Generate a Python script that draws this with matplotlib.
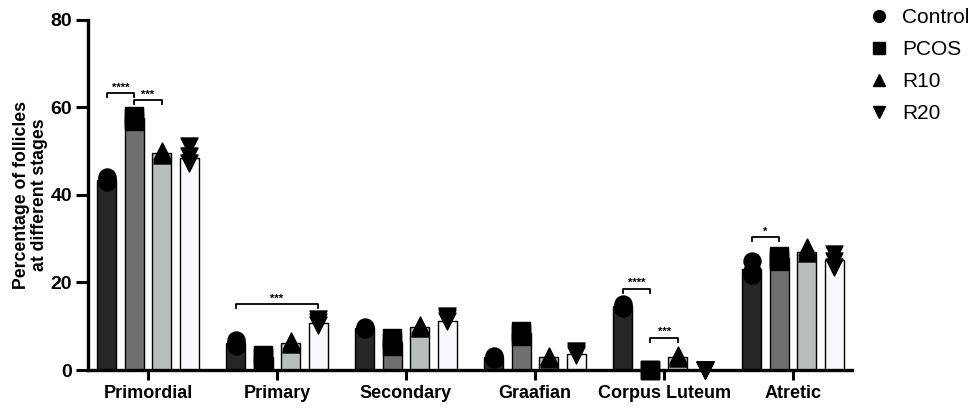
import matplotlib.pyplot as plt
from matplotlib.lines import Line2D
import numpy as np

plt.rcParams['font.family'] = ['Liberation Sans', 'DejaVu Sans']

stages = ['Primordial', 'Primary', 'Secondary', 'Graafian', 'Corpus Luteum', 'Atretic']
groups = ['Control', 'PCOS', 'R10', 'R20']

# group means (% of follicles)
control = [43.4, 6.1, 9.6, 3.0, 14.6, 23.0]
pcos = [57.5, 3.0, 6.5, 8.5, 0.0, 25.5]
r10 = [49.5, 6.2, 9.9, 3.0, 3.0, 26.9]
r20 = [48.5, 10.7, 11.3, 3.6, 0.0, 25.2]

# individual animals
control_pts = [[43.0, 43.6, 44.2], [5.6, 6.2, 6.8], [9.3, 9.6, 9.9],
               [2.6, 3.0, 3.3], [14.2, 14.6, 15.0], [21.6, 22.6, 24.8]]
pcos_pts = [[57.0, 57.5, 58.1], [2.5, 3.0, 3.5], [5.6, 6.5, 7.3],
            [7.8, 8.5, 9.0], [0.0, 0.0, 0.0], [24.8, 25.4, 26.0]]
r10_pts = [[49.2, 49.6, 50.1], [5.9, 6.2, 6.7], [9.6, 9.9, 10.3],
           [2.6, 3.0, 3.3], [2.7, 3.0, 3.4], [26.8, 27.4, 28.0]]
r20_pts = [[47.4, 49.0, 51.2], [10.4, 11.0, 11.6], [11.2, 11.8, 12.4],
           [3.5, 4.0, 4.3], [0.0, 0.0, 0.0], [23.6, 25.0, 26.6]]

means = [control, pcos, r10, r20]
points = [control_pts, pcos_pts, r10_pts, r20_pts]
colors = ['#262626', '#707070', '#b9bdbd', '#f8f9fc']
markers = ['o', 's', '^', 'v']

# significance brackets: (stage, group_a, group_b, height, stars)
sig = [(0, 0, 1, 63.2, '****'), (0, 1, 2, 61.6, '***'),
       (1, 0, 3, 15.1, '***'),
       (4, 0, 1, 18.6, '****'), (4, 1, 2, 7.4, '***'),
       (5, 0, 1, 30.3, '*')]

fig = plt.figure(figsize=(9.73, 4.08), dpi=100)
ax = fig.add_axes([0.0904, 0.0931, 0.7853, 0.858])

x = np.arange(len(stages))
width = 0.148
offsets = [-0.32, -0.107, 0.107, 0.32]

for g in range(4):
    xs = x + offsets[g]
    ax.bar(xs, means[g], width, color=colors[g], edgecolor='black',
           linewidth=1.0, zorder=2)
    for i in range(len(stages)):
        pts = points[g][i]
        ax.scatter([xs[i]] * len(pts), pts, marker=markers[g], s=150,
                   color='black', zorder=3, clip_on=False)

for st, a, b, h, stars in sig:
    xa = x[st] + offsets[a]
    xb = x[st] + offsets[b]
    ax.plot([xa, xa, xb, xb], [h - 0.9, h, h, h - 0.9], color='black',
            lw=1.3, zorder=4)
    ax.text((xa + xb) / 2, h + 0.1, stars, ha='center', va='bottom',
            fontsize=8, fontweight='bold')

ax.set_xlim(-0.465, 5.457)
ax.set_ylim(0, 80)
ax.set_yticks([0, 20, 40, 60, 80])
ax.set_xticks(x)
ax.set_xticklabels(stages)
for lab in ax.get_xticklabels():
    lab.set_fontweight('bold')
    lab.set_fontsize(13)
for lab in ax.get_yticklabels():
    lab.set_fontweight('bold')
    lab.set_fontsize(14)
ax.tick_params(axis='both', width=2.2, direction='out')
ax.tick_params(axis='y', length=8.5, pad=3)
ax.tick_params(axis='x', length=7, pad=4)
for side in ['top', 'right']:
    ax.spines[side].set_visible(False)
for side in ['left', 'bottom']:
    ax.spines[side].set_linewidth(2.4)

ax.set_ylabel('Percentage of follicles\nat different stages', fontsize=12.7,
              fontweight='bold', labelpad=1.5, linespacing=1.1)

handles = [Line2D([], [], marker=m, color='black', linestyle='none',
                  markersize=8.5) for m in markers]
fig.legend(handles, groups, loc='upper left', bbox_to_anchor=(0.884, 1.0),
           frameon=False, fontsize=15, handletextpad=0.6, labelspacing=0.62,
           handlelength=1.0, borderaxespad=0.0)

fig.savefig('out.png', dpi=100)
